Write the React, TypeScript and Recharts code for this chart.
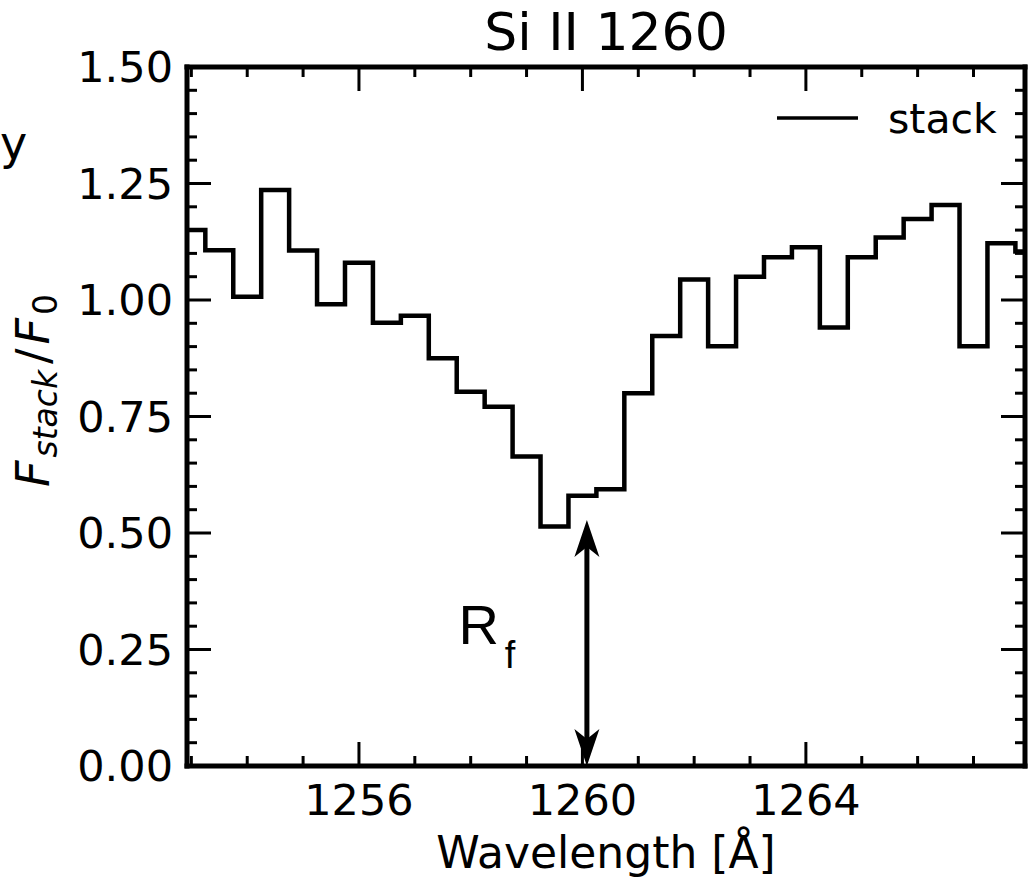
import React from 'react';
import {
  LineChart,
  Line,
  XAxis,
  YAxis,
  Legend,
  Label,
  ReferenceLine,
  ReferenceDot,
} from 'recharts';

// binned stack, 0.5 A bins
const binCenters = [
  1253.0, 1253.5, 1254.0, 1254.5, 1255.0, 1255.5, 1256.0, 1256.5, 1257.0, 1257.5,
  1258.0, 1258.5, 1259.0, 1259.5, 1260.0, 1260.5, 1261.0, 1261.5, 1262.0, 1262.5,
  1263.0, 1263.5, 1264.0, 1264.5, 1265.0, 1265.5, 1266.0, 1266.5, 1267.0, 1267.5,
  1268.0,
];
const stackFlux = [
  1.15, 1.107, 1.007, 1.236, 1.106, 0.991, 1.08, 0.951, 0.966, 0.875,
  0.803, 0.771, 0.664, 0.514, 0.58, 0.594, 0.8, 0.923, 1.044, 0.901,
  1.05, 1.092, 1.113, 0.941, 1.092, 1.134, 1.174, 1.204, 0.901, 1.122,
  1.104,
];
const binWidth = 0.5;

const lineCenter = 1260.422;
const halfWindow = 7.5;

const xMajor = [1256, 1260, 1264];
const xMinor = [1253, 1254, 1255, 1257, 1258, 1259, 1261, 1262, 1263, 1265, 1266, 1267];
const yMajor = [0, 0.25, 0.5, 0.75, 1.0, 1.25, 1.5];
const yMinor = [
  0.05, 0.1, 0.15, 0.2, 0.3, 0.35, 0.4, 0.45, 0.55, 0.6, 0.65, 0.7,
  0.8, 0.85, 0.9, 0.95, 1.05, 1.1, 1.15, 1.2, 1.3, 1.35, 1.4, 1.45,
];

// residual flux arrow + label
const rfWavelength = 1260.08;
const rfTop = 0.528;
const rfLabelPos = { x: 1257.78, y: 0.262 };

// stepAfter needs the left edge of each bin, plus a closing point
const stepData = binCenters.map((c, i) => ({ wl: c - binWidth / 2, flux: stackFlux[i] }));
stepData.push({
  wl: binCenters[binCenters.length - 1] + binWidth / 2,
  flux: stackFlux[stackFlux.length - 1],
});

const xDomain = [lineCenter - halfWindow, lineCenter + halfWindow];
const yDomain = [0, 1.5];

const FONT = 'DejaVu Sans';
const tickFont = { fill: '#000', fontSize: 43, fontFamily: FONT };
const frame = { stroke: '#000', strokeWidth: 5, strokeLinecap: 'square' as const };
const tickStroke = { stroke: '#000', strokeWidth: 3 };

// tick-only axes: keep the tick line, draw no label
const NoLabel = () => <g />;

const YLabel = (props: any) => {
  const vb = props.viewBox;
  const cx = vb.x - 137;
  const cy = vb.y + vb.height / 2 - 26;
  return (
    <text
      x={cx}
      y={cy}
      transform={`rotate(-90 ${cx} ${cy})`}
      textAnchor="middle"
      fontFamily={FONT}
      fontSize={46}
      fill="#000"
    >
      <tspan fontStyle="italic">F</tspan>
      <tspan fontStyle="italic" fontSize={33} dy={8} dx={3}>stack</tspan>
      <tspan dy={-8} dx={6}>/</tspan>
      <tspan fontStyle="italic" dx={4}>F</tspan>
      <tspan fontSize={33} dy={8} dx={3}>0</tspan>
    </text>
  );
};

const DoubleArrow = (p: any) => {
  const x = p.x1;
  const top = Math.min(p.y1, p.y2);
  const bot = Math.max(p.y1, p.y2);
  const len = 37;
  const half = 12.5;
  const notch = 27;
  return (
    <g>
      <line x1={x} x2={x} y1={top + notch} y2={bot - notch} stroke="#000" strokeWidth={5} />
      <polygon
        points={`${x},${top} ${x + half},${top + len} ${x},${top + notch} ${x - half},${top + len}`}
        fill="#000"
      />
      <polygon
        points={`${x},${bot} ${x + half},${bot - len} ${x},${bot - notch} ${x - half},${bot - len}`}
        fill="#000"
      />
    </g>
  );
};

const RfText = (p: any) => (
  <text x={p.cx} y={p.cy} fontFamily="Liberation Sans" fontSize={56} fill="#000">
    R
    <tspan fontSize={38} dy={24} dx={6} fill="#000">f</tspan>
  </text>
);

const StackLegend = (props: any) => {
  const item = props.payload && props.payload[0];
  if (!item) return null;
  return (
    <svg width={250} height={60}>
      <line x1={7} x2={88} y1={28} y2={28} stroke={item.color || '#000'} strokeWidth={3.5} />
      <text x={118} y={43} fontFamily={FONT} fontSize={41} fill="#000">
        {item.value}
      </text>
    </svg>
  );
};

export default function App() {
  return (
    <div style={{ position: 'absolute', left: 0, top: 0, width: 1034, height: 885, background: '#fff' }}>
      <svg width={40} height={200} style={{ position: 'absolute', left: 0, top: 0 }}>
        <text x={0} y={159} fontFamily={FONT} fontSize={46} fill="#000">
          y
        </text>
      </svg>
      <LineChart
        width={1034}
        height={885}
        data={stepData}
        margin={{ top: 67, right: 9, bottom: 118, left: 186 }}
      >
        {/* bottom: labels + frame */}
        <XAxis
          xAxisId="x"
          dataKey="wl"
          type="number"
          domain={xDomain}
          allowDataOverflow
          ticks={xMajor}
          interval={0}
          height={1}
          tickSize={0}
          tickMargin={18}
          tick={tickFont}
          tickLine={false}
          axisLine={frame}
        >
          <Label
            value="Wavelength [Å]"
            position="bottom"
            offset={70}
            style={{ fontSize: 44, fontFamily: FONT, fill: '#000' }}
          />
        </XAxis>
        <XAxis xAxisId="xMajB" dataKey="wl" type="number" domain={xDomain} allowDataOverflow
          ticks={xMajor} interval={0} height={1} mirror tickSize={24} tick={NoLabel}
          axisLine={false} tickLine={tickStroke} />
        <XAxis xAxisId="xMinB" dataKey="wl" type="number" domain={xDomain} allowDataOverflow
          ticks={xMinor} interval={0} height={1} mirror tickSize={9} tick={NoLabel}
          axisLine={false} tickLine={tickStroke} />
        {/* top: frame + title */}
        <XAxis xAxisId="xMajT" dataKey="wl" orientation="top" type="number" domain={xDomain}
          allowDataOverflow ticks={xMajor} interval={0} height={1} mirror tickSize={24}
          tick={NoLabel} axisLine={frame} tickLine={tickStroke}>
          <Label
            value="Si II 1260"
            position="top"
            offset={17}
            style={{ fontSize: 52, fontFamily: FONT, fill: '#000' }}
          />
        </XAxis>
        <XAxis xAxisId="xMinT" dataKey="wl" orientation="top" type="number" domain={xDomain}
          allowDataOverflow ticks={xMinor} interval={0} height={1} mirror tickSize={9}
          tick={NoLabel} axisLine={false} tickLine={tickStroke} />

        {/* left: labels + frame */}
        <YAxis
          yAxisId="y"
          type="number"
          domain={yDomain}
          allowDataOverflow
          ticks={yMajor}
          interval={0}
          width={1}
          tickSize={0}
          tickMargin={14}
          tick={tickFont}
          tickFormatter={(v: number) => v.toFixed(2)}
          tickLine={false}
          axisLine={frame}
        >
          <Label content={YLabel} />
        </YAxis>
        <YAxis yAxisId="yMajL" type="number" domain={yDomain} allowDataOverflow ticks={yMajor}
          interval={0} width={1} mirror tickSize={24} tick={NoLabel} axisLine={false}
          tickLine={tickStroke} />
        <YAxis yAxisId="yMinL" type="number" domain={yDomain} allowDataOverflow ticks={yMinor}
          interval={0} width={1} mirror tickSize={9} tick={NoLabel} axisLine={false}
          tickLine={tickStroke} />
        {/* right */}
        <YAxis yAxisId="yMajR" orientation="right" type="number" domain={yDomain} allowDataOverflow
          ticks={yMajor} interval={0} width={1} mirror tickSize={24} tick={NoLabel}
          axisLine={frame} tickLine={tickStroke} />
        <YAxis yAxisId="yMinR" orientation="right" type="number" domain={yDomain} allowDataOverflow
          ticks={yMinor} interval={0} width={1} mirror tickSize={9} tick={NoLabel}
          axisLine={false} tickLine={tickStroke} />

        <Legend
          layout="horizontal"
          verticalAlign="middle"
          align="center"
          wrapperStyle={{ left: 770, top: 90, width: 250, height: 60 }}
          content={StackLegend}
        />

        <Line
          xAxisId="x"
          yAxisId="y"
          name="stack"
          type="stepAfter"
          dataKey="flux"
          stroke="#000"
          strokeWidth={4.5}
          dot={false}
          activeDot={false}
          isAnimationActive={false}
        />

        <ReferenceLine
          xAxisId="x"
          yAxisId="y"
          segment={[
            { x: rfWavelength, y: 0 },
            { x: rfWavelength, y: rfTop },
          ]}
          ifOverflow="visible"
          shape={DoubleArrow}
        />
        <ReferenceDot
          xAxisId="x"
          yAxisId="y"
          x={rfLabelPos.x}
          y={rfLabelPos.y}
          ifOverflow="visible"
          shape={RfText}
        />
      </LineChart>
    </div>
  );
}
